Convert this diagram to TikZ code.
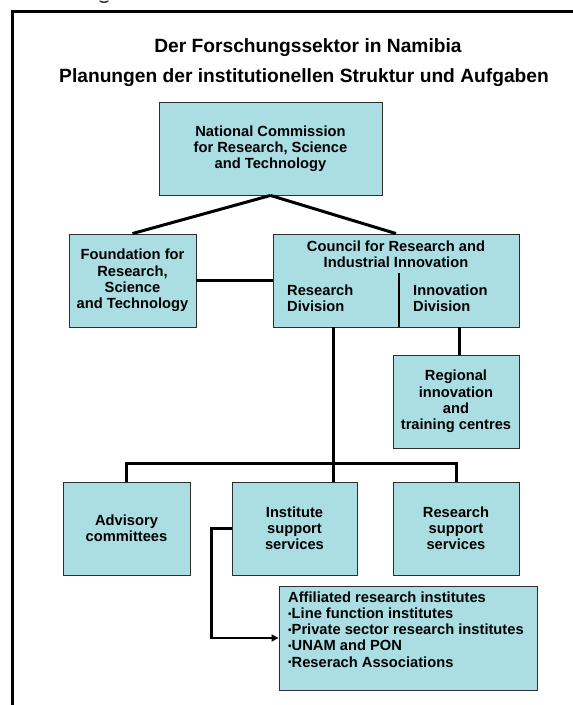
\documentclass[tikz,border=0pt]{standalone}
\usepackage{fontspec}
\setmainfont{Liberation Sans}
\usetikzlibrary{arrows.meta}

\definecolor{boxfill}{RGB}{170,222,226}
\definecolor{boxline}{RGB}{45,45,45}

\newcommand\bodyfont{\fontsize{14.7}{16.2}\selectfont\bfseries}
\newcommand\titlefont{\fontsize{19.2}{22}\selectfont\bfseries}
\newcommand\itm{{\fontsize{10}{10}\selectfont\raisebox{1.2pt}{•}}}

\tikzset{
  orgbox/.style={draw=boxline, line width=0.9pt, fill=boxfill, inner sep=0pt,
    align=center, font=\bodyfont},
  plaintext/.style={inner sep=0pt, font=\bodyfont},
  headline/.style={inner sep=0pt, anchor=base, font=\titlefont},
  conn/.style={line width=3pt},
  divider/.style={line width=2pt},
  elbow/.style={line width=2.6pt, -{Triangle[length=7pt,width=7pt]}},
  frameline/.style={line width=3pt}
}

\begin{document}
\begin{tikzpicture}[x=1pt,y=-1pt]
\useasboundingbox (0,0) rectangle (573,705);
\fill[white] (0,0) rectangle (573,705);

% page frame
\draw[frameline] (12,705) -- (12,11) -- (573,11);
% cut-off descender above the frame
\draw[line width=1.6pt, black!75, line cap=round] (100,1.2) .. controls (104,2.6) .. (108,1.2);

% headings
\node[headline] (t1) at (308,52) {Der Forschungssektor in Namibia};
\node[headline] (t2) at (304,82) {Planungen der institutionellen Struktur und Aufgaben};

% boxes
\node[orgbox, minimum width=223, minimum height=93] (nat) at (270.5,148.5)
  {National Commission\\for Research, Science\\and Technology};
\node[orgbox, minimum width=127, minimum height=93] (found) at (132.5,280.5)
  {Foundation for\\Research,\\Science\\and Technology};
\node[orgbox, minimum width=246, minimum height=93] (council) at (396,280.5) {};
\node[plaintext, align=center] (ctitle) at (396,254)
  {Council for Research and\\Industrial Innovation};
\node[plaintext, align=left, anchor=west] (resdiv) at (287,298) {Research\\Division};
\node[plaintext, align=left, anchor=west] (innodiv) at (413,298) {Innovation\\Division};
\node[orgbox, minimum width=126, minimum height=93] (reg) at (456,401.5)
  {Regional\\innovation\\and\\training centres};
\node[orgbox, minimum width=127, minimum height=93] (adv) at (126.5,528.5)
  {Advisory\\committees};
\node[orgbox, minimum width=125, minimum height=93] (inst) at (294.5,528.5)
  {Institute\\support\\services};
\node[orgbox, minimum width=126, minimum height=93] (rss) at (456,528.5)
  {Research\\support\\services};
\node[orgbox, minimum width=258, minimum height=104] (aff) at (408,638) {};
\node[plaintext, align=left, anchor=north west] (afftext) at (288,591.5)
  {Affiliated research institutes\\
   \itm Line function institutes\\
   \itm Private sector research institutes\\
   \itm UNAM and PON\\
   \itm Reserach Associations};

% connectors
\draw[conn] (nat.south) -- (found.north);
\draw[conn] (nat.south) -- (council.north);
\draw[conn] (found.east) -- (council.west);

\coordinate (divtop) at (399,273);
\draw[divider] (divtop) -- (divtop |- council.south);

\coordinate (rdiv) at (333,327);
\coordinate (idiv) at (459,327);
\coordinate (bus) at (333,463);
\draw[conn] (idiv) -- (idiv |- reg.north);
\draw[conn] (rdiv) -- (rdiv |- inst.north);
\draw[conn] (adv.north) -- (adv.north |- bus) -| (rss.north);

\draw[elbow] (inst.west) -- ++(-20,0) |- (aff.west);
\end{tikzpicture}
\end{document}
